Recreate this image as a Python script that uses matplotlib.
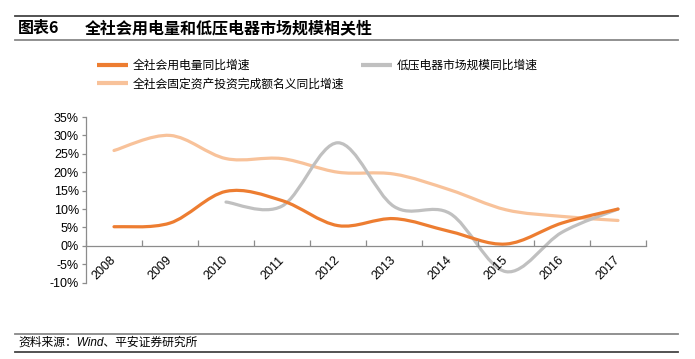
import matplotlib.pyplot as plt
import numpy as np
from matplotlib.path import Path
from matplotlib.patches import PathPatch
from matplotlib.lines import Line2D

plt.rcParams['font.family'] = ['Liberation Sans', 'Noto Sans CJK SC', 'DejaVu Sans']

# data (percent)
years = ['2008', '2009', '2010', '2011', '2012', '2013', '2014', '2015', '2016', '2017']
power = [5.2, 6.2, 14.8, 12.3, 5.5, 7.4, 3.9, 0.5, 6.2, 10.0]
lowvolt = [None, None, 11.9, 10.8, 28.0, 10.7, 8.8, -7.0, 3.7, 10.0]
invest = [25.9, 30.0, 23.7, 23.7, 20.0, 19.5, 15.2, 9.8, 8.0, 6.9]

names = ['全社会用电量同比增速', '全社会固定资产投资完成额名义同比增速', '低压电器市场规模同比增速']
colors = ['#ED7D31', '#F8C29A', '#C0C0C0']


def smooth_path(xs, ys):
    # Excel-style smoothed line: cubic bezier through each point
    pts = [(x, y) for x, y in zip(xs, ys) if y is not None]
    p = np.array(pts, dtype=float)
    verts = [p[0]]
    codes = [Path.MOVETO]
    n = len(p)
    for i in range(n - 1):
        p0 = p[i - 1] if i > 0 else p[i]
        p3 = p[i + 2] if i + 2 < n else p[i + 1]
        c1 = p[i] + (p[i + 1] - p0) / 6
        c2 = p[i + 1] - (p3 - p[i]) / 6
        verts += [c1, c2, p[i + 1]]
        codes += [Path.CURVE4] * 3
    return Path(verts, codes)


fig = plt.figure(figsize=(6.95, 3.59), dpi=100)
ax = fig.add_axes([86 / 695, 1 - 282.7 / 359, 560 / 695, 165.7 / 359])

x = np.arange(len(years))
for ys, c in [(invest, colors[1]), (lowvolt, colors[2]), (power, colors[0])]:
    ax.add_patch(PathPatch(smooth_path(x, ys), fill=False, edgecolor=c,
                           lw=2.3, capstyle='round', joinstyle='round'))

ax.set_xlim(-0.5, 9.5)
ax.set_ylim(-10, 35)
ax.set_yticks(range(-10, 36, 5))
ax.set_yticklabels([f'{v}%' for v in range(-10, 36, 5)], fontsize=9)

for s in ['top', 'right']:
    ax.spines[s].set_visible(False)
ax.spines['bottom'].set_position(('data', 0))
for s in ['bottom', 'left']:
    ax.spines[s].set_color('#8C8C8C')
    ax.spines[s].set_linewidth(0.9)

ax.set_xticks(x)
ax.set_xticklabels(years, rotation=45, ha='right', va='center',
                   rotation_mode='anchor', fontsize=9)
ax.tick_params(axis='x', which='major', length=0, pad=9)
ax.set_xticks(np.arange(-0.5, 10, 1), minor=True)
ax.tick_params(axis='x', which='minor', direction='in', length=4,
               color='#8C8C8C', width=0.9)
ax.tick_params(axis='y', direction='out', length=3, color='#8C8C8C',
               width=0.9, pad=2)

handles = [Line2D([], [], color=c, lw=3, solid_capstyle='butt') for c in colors]
ax.legend(handles, names, ncol=2, loc='upper left', frameon=False,
          bbox_to_anchor=(97 / 695, 1 - 60 / 359), bbox_transform=fig.transFigure,
          fontsize=8.5, handlelength=2.6, handletextpad=0.4,
          columnspacing=1.45, labelspacing=0.55, borderpad=0, borderaxespad=0)

# header and footer
for yy, c in [(16, '#444444'), (40, '#888888'), (334, '#888888'), (352, '#444444')]:
    fig.add_artist(Line2D([15 / 695, 678 / 695], [1 - yy / 359] * 2,
                          color=c, lw=1.3))
fig.text(18 / 695, 1 - 28 / 359, '图表6', fontsize=11.5, fontweight='bold',
         va='center', family=['Noto Sans CJK SC', 'DejaVu Sans'])
fig.text(85 / 695, 1 - 28 / 359, '全社会用电量和低压电器市场规模相关性', fontsize=11.5,
         fontweight='bold', va='center', family=['Noto Sans CJK SC', 'DejaVu Sans'])
fig.text(18 / 695, 1 - 343 / 359, '资料来源：Wind、平安证券研究所', fontsize=8.5,
         va='center', style='italic')

fig.savefig('out.png', dpi=100)
